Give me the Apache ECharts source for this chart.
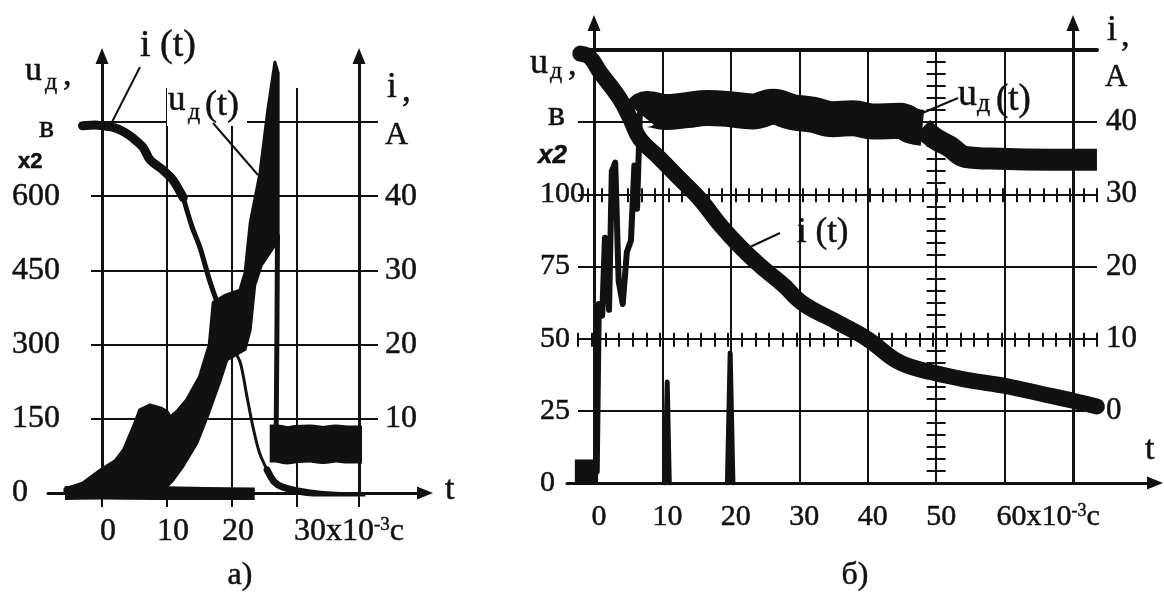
<!DOCTYPE html>
<html>
<head>
<meta charset="utf-8">
<script src="https://cdn.jsdelivr.net/npm/echarts@6/dist/echarts.min.js"></script>
<style>
  html, body { margin: 0; background: #fff; }
  #chart { width: 1164px; height: 592px; }
</style>
</head>
<body>
<div id="chart"></div>
<script>
const SERIF = '"Liberation Serif", "Times New Roman", serif';
const SANS = '"Liberation Sans", Arial, sans-serif';
const INK = '#111';

// ---- а) t in 10^-3 s, u in V (x2, left axis), i in A (right axis)
const tTicksA = [0, 10, 20, 30];
const uTicksA = [0, 150, 300, 450, 600];
const iTicksA = [10, 20, 30, 40];

const iA_t = [-3, -1, 0, 2, 3.5, 4.8, 6.3, 7.4, 9.4, 10.9, 12.5, 13.8, 15.1, 16.6, 18, 19.2, 20.2, 21.3, 22.3, 23.2, 24.2, 25.4, 26.5, 27.8, 32, 36, 40];
const iA_v = [49.5, 49.6, 49.5, 49.2, 48.6, 47.8, 46.6, 44.9, 43.5, 42.2, 39.8, 36, 33, 28.5, 25, 21.5, 19.5, 17.5, 13, 9, 5.5, 3.1, 1.5, 0.8, 0, -0.3, -0.4];

// smeared u trace up to the spike: outline of the dark area
const uBlobA_t = [-5.7, -3, -0.3, 2, 3.3, 5, 5.8, 7.4, 9, 10, 10.5, 11.5, 13, 15, 16.5, 17.1, 19, 21.2, 22, 22.8, 24.3, 25.5, 26.6,
  27.1, 27.1, 24.5, 23.5, 22.8, 22, 19.2, 18.2, 16.2, 14.6, 12.5, 10.9, 9, -5.7];
const uBlobA_v = [8, 20, 46, 65, 87, 140, 168, 178, 172, 165, 154, 165, 188, 235, 300, 385, 400, 410, 445, 546, 647, 774, 871,
  849, 511, 460, 420, 330, 290, 269, 228, 154, 101, 55, 26, 0, 0];
const uDropA_t = [27.0, 26.9, 26.8];
const uDropA_v = [520, 300, 130];
const uHoldA_t = [25.8, 27, 28.5, 30, 32, 34, 36, 38, 40];
const uHoldA_v = [100, 100, 96, 99, 100, 97, 100, 98, 98];
const zeroA_t = [-5.7, 0, 8, 16, 23.5];
const zeroA_v = [0, 1, 0, -2, -3];

// ---- б)
const tTicksB = [0, 10, 20, 30, 40, 50, 60];
const uTicksB = [0, 25, 50, 75, 100];
const iTicksB = [0, 10, 20, 30, 40];

const iB_t = [-2, -0.6, 0.9, 3.8, 5.3, 6.7, 9.6, 12.6, 15.5, 18.4, 21.3, 24.3, 27.6, 30.5, 35.5, 39.9, 44.7, 49.5, 54.5, 60.4, 65.2, 70, 73.5];
const iB_v = [49.5, 49, 46.9, 43.2, 40.5, 37.7, 35, 32.1, 29.3, 25.8, 22.8, 20.1, 17.5, 14.9, 12.3, 10, 6.7, 5.3, 4.3, 3.4, 2.4, 1.4, 0.6];

const uBaseB_t = [-2.8, 0.6];
const uBaseB_v = [4, 4];
const uOscB_t = [0.4, 0.7, 1.2, 1.6, 2.2, 2.6, 3.1, 3.6, 4.2, 4.8, 5.4, 5.9, 6.3, 6.7];
const uOscB_v = [4, 62, 58, 85, 60, 108, 111, 70, 62, 80, 84, 110, 95, 128];
const uHighB_t = [6.7, 7.7, 10.5, 13.6, 16.5, 19.4, 23.2, 26.2, 29, 32, 34.9, 37.8, 40.8, 44.7, 46.6, 48];
const uHighB_v = [128, 129.6, 128.5, 129.2, 129.9, 129.6, 128.7, 130.3, 128.5, 127.6, 126, 126.4, 125.2, 125.5, 123.6, 123];
const uLowB_t = [48, 49.8, 52, 54.2, 59.3, 66.6, 73.5];
const uLowB_v = [123, 119.4, 116.5, 113, 112.3, 112, 112];
const markB_t = [10.4, 10.7, 11.0, 15, 19.5, 19.9, 20.3];
const markB_v = [0, 35, 0, null, 0, 45, 0];

const option = {
  animation: false,
  backgroundColor: '#fff',
  grid: [], xAxis: [], yAxis: [], series: [], graphic: []
};
const push = (arr, o) => (arr.push(o), arr.length - 1);
const hidden = extra => Object.assign({ type: 'value', show: false, min: 0, max: 1 }, extra);
const arrowLine = { show: true, onZero: false, symbol: ['none', 'triangle'], symbolSize: [13, 16], lineStyle: { color: INK, width: 3 } };
const off = { show: false };
const gridLine = w => ({ show: true, showMinLine: false, showMaxLine: false, lineStyle: { color: INK, width: w } });
const heavy = { textBorderColor: INK, textBorderWidth: 0.5 };

function xLabels(ticks, size, pad, lastPad, margin) {
  const n = Object.assign({ fontFamily: SERIF, fontSize: size, lineHeight: size, color: INK }, heavy);
  return {
    margin, showMaxLabel: false, showMinLabel: true,
    formatter: v => {
      const k = ticks.indexOf(v);
      if (k < 0) return '';
      return k === ticks.length - 1 ? `{q| }{n|${v}x10}{s|-3}{n|c}` : `{p| }{n|${v}}`;
    },
    rich: {
      p: { width: pad }, q: { width: lastPad }, n,
      s: Object.assign({}, n, { fontSize: Math.round(size * 0.6), lineHeight: null, verticalAlign: 'top' })
    }
  };
}
function yLabels(ticks, size, margin) {
  return Object.assign({ margin, align: 'left', fontFamily: SERIF, fontSize: size, color: INK,
    formatter: v => (ticks.includes(v) ? String(v) : '') }, heavy);
}
function line(xs, ys, xi, yi, w, smooth, cap) {
  option.series.push({
    type: 'line', xAxisIndex: xi, yAxisIndex: yi, silent: true, z: 3,
    data: xs.map((x, k) => [x, ys[k]]),
    showSymbol: false, symbol: 'none', smooth: smooth,
    lineStyle: { color: INK, width: w, cap: cap || 'round', join: 'round' }
  });
}
// dark smeared area of a trace, outline given in data units
function blob(xs, ys, xi, yi) {
  option.series.push({
    type: 'custom', xAxisIndex: xi, yAxisIndex: yi, silent: true, z: 3,
    data: [[xs[0], ys[0]]],
    renderItem: (params, api) => ({
      type: 'polygon',
      shape: { points: xs.map((x, k) => api.coord([x, ys[k]])) },
      style: { fill: INK, stroke: INK, lineWidth: 3, lineJoin: 'round' }
    })
  });
}

// ================= panel а) =================
const A = { t0: 102, pxT: 6.5, u0: 493, pxU: 74.2 / 150 };
const tA = px => (px - A.t0) / A.pxT;
const uA = py => (A.u0 - py) / A.pxU;

let g = push(option.grid, { left: 91, top: 122, width: 287, height: 371 });
push(option.xAxis, hidden({ gridIndex: g }));
push(option.yAxis, { type: 'value', gridIndex: g, min: 0, max: 750, interval: 150,
  axisLine: off, axisTick: off, axisLabel: off, splitLine: Object.assign(gridLine(2), { showMaxLine: true }) });

g = push(option.grid, { left: 102, top: 88, width: 257, height: 419 });
push(option.xAxis, { type: 'value', gridIndex: g, min: 0, max: tA(359), interval: 10,
  axisLine: off, axisTick: off, splitLine: Object.assign(gridLine(2), { showMinLine: true, showMaxLine: true }),
  axisLabel: xLabels(tTicksA, 32, 12, 104, 9) });
push(option.yAxis, hidden({ gridIndex: g }));

g = push(option.grid, { left: 48, top: 56, width: 377, height: 437 });
const xA = push(option.xAxis, { type: 'value', gridIndex: g, min: tA(48), max: tA(425),
  axisLine: arrowLine, axisTick: off, axisLabel: off, splitLine: off });
const yuA = push(option.yAxis, hidden({ gridIndex: g, max: uA(56) }));
const yiA = push(option.yAxis, hidden({ gridIndex: g, max: uA(56) / 15, position: 'right' }));

g = push(option.grid, { left: 102, top: 56, width: 257, height: 437 });
push(option.xAxis, hidden({ gridIndex: g }));
push(option.yAxis, { type: 'value', gridIndex: g, position: 'left', min: 0, max: uA(56), interval: 150,
  axisLine: arrowLine, axisTick: off, splitLine: off, axisLabel: yLabels(uTicksA, 32, 90) });
push(option.yAxis, { type: 'value', gridIndex: g, position: 'right', min: 0, max: uA(56) / 15, interval: 10,
  axisLine: arrowLine, axisTick: off, splitLine: off, axisLabel: yLabels(iTicksA, 32, 26) });

line(zeroA_t, zeroA_v, xA, yuA, 14, 0.3, 'butt');
blob(uBlobA_t, uBlobA_v, xA, yuA);
line(uDropA_t, uDropA_v, xA, yuA, 5, false);
line(uHoldA_t, uHoldA_v, xA, yuA, 38, 0.3, 'butt');
line(iA_t.slice(0, 11), iA_v.slice(0, 11), xA, yiA, 9, 0.3);
line(iA_t.slice(10, 15), iA_v.slice(10, 15), xA, yiA, 5, 0.3);
line(iA_t.slice(14, 22), iA_v.slice(14, 22), xA, yiA, 3, 0.3);
line(iA_t.slice(21), iA_v.slice(21), xA, yiA, 7, 0.3);

// ================= panel б) =================
const B = { t0: 594, pxT: 479 / 70, u0: 483, pxU: 433 / 150 };
const tB = px => (px - B.t0) / B.pxT;
const uB = py => (B.u0 - py) / B.pxU;
const iOf = u => (u - 25) / 2.5;

g = push(option.grid, { left: 578, top: 50, width: 519, height: 433 });
push(option.xAxis, { type: 'value', gridIndex: g, min: 0, max: 1, position: 'top',
  axisLine: { show: true, onZero: false, lineStyle: { color: INK, width: 4 } }, axisTick: off, axisLabel: off, splitLine: off });
push(option.yAxis, { type: 'value', gridIndex: g, min: 0, max: 150, interval: 25,
  axisLine: off, axisTick: off, axisLabel: off, splitLine: gridLine(2) });

g = push(option.grid, { left: 594, top: 50, width: 479, height: 433 });
push(option.xAxis, { type: 'value', gridIndex: g, min: 0, max: 70, interval: 10,
  axisLine: off, axisTick: off, splitLine: gridLine(2),
  axisLabel: xLabels(tTicksB, 30, 10, 87, 19) });
push(option.yAxis, hidden({ gridIndex: g }));

// graticule tick marks on the 100 and 50 lines and on t = 50
[[100, 588], [50, 578]].forEach(([u, left]) => {
  const gt = push(option.grid, { left, top: B.u0 - u * B.pxU, width: 1097 - left, height: 1 });
  ['top', 'bottom'].forEach(pos => push(option.xAxis, { type: 'value', gridIndex: gt, position: pos, min: 0, max: 38, interval: 1,
    axisLine: off, axisLabel: off, splitLine: off, axisTick: { show: true, length: 7, lineStyle: { color: INK, width: 2 } } }));
  push(option.yAxis, hidden({ gridIndex: gt }));
});
g = push(option.grid, { left: B.t0 + 50 * B.pxT - 0.5, top: 50, width: 1, height: 433 });
push(option.xAxis, hidden({ gridIndex: g }));
['left', 'right'].forEach(pos => push(option.yAxis, { type: 'value', gridIndex: g, position: pos, min: 0, max: 36, interval: 1,
  axisLine: off, axisLabel: off, splitLine: off, axisTick: { show: true, length: 9, lineStyle: { color: INK, width: 2 } } }));

g = push(option.grid, { left: 567, top: 23, width: 588, height: 460 });
const xB = push(option.xAxis, { type: 'value', gridIndex: g, min: tB(567), max: tB(1155),
  axisLine: arrowLine, axisTick: off, axisLabel: off, splitLine: off });
const yuB = push(option.yAxis, hidden({ gridIndex: g, max: uB(23) }));
const yiB = push(option.yAxis, hidden({ gridIndex: g, min: -10, max: iOf(uB(23)), position: 'right' }));

g = push(option.grid, { left: 594, top: 23, width: 479, height: 460 });
push(option.xAxis, hidden({ gridIndex: g }));
push(option.yAxis, { type: 'value', gridIndex: g, position: 'left', min: 0, max: uB(23), interval: 25,
  axisLine: arrowLine, axisTick: off, splitLine: off, axisLabel: yLabels(uTicksB, 30, 54) });
push(option.yAxis, { type: 'value', gridIndex: g, position: 'right', min: -10, max: iOf(uB(23)), interval: 10,
  axisLine: arrowLine, axisTick: off, splitLine: off, axisLabel: yLabels(iTicksB, 31, 33) });

line(uBaseB_t, uBaseB_v, xB, yuB, 24, false, 'butt');
line(uOscB_t, uOscB_v, xB, yuB, 6, false);
line(uHighB_t, uHighB_v, xB, yuB, 36, 0.4, 'butt');
line(uLowB_t, uLowB_v, xB, yuB, 22, 0.4, 'butt');
line(markB_t, markB_v, xB, yuB, 5, false);
line(iB_t, iB_v, xB, yiB, 16, 0.4);

// ================= captions =================
function txt(text, x, y, font, extra) {
  option.graphic.push({ type: 'text', x, y, z: 60, silent: true,
    style: Object.assign({ text, font, fill: INK, stroke: INK, lineWidth: 0.5,
      textAlign: 'left', textVerticalAlign: 'middle', align: 'left', verticalAlign: 'middle' }, extra || {}) });
}
function lead(x1, y1, x2, y2) {
  option.graphic.push({ type: 'line', z: 60, silent: true, shape: { x1, y1, x2, y2 }, style: { stroke: INK, lineWidth: 2 } });
}
const serif = s => `${s}px ${SERIF}`;

// а)
txt('u', 25, 71, serif(34));
txt('д', 45, 83, serif(24));
txt(',', 63, 76, serif(34));
txt('в', 39, 129, serif(32));
txt('x2', 18, 162, `bold 22px ${SANS}`);
txt('i (t)', 140, 46, serif(38));
lead(140, 67, 112, 122);
option.graphic.push({ type: 'rect', z: 55, silent: true, shape: { x: 167, y: 86, width: 80, height: 40 }, style: { fill: '#fff' } });
txt('u', 168, 101, serif(35));
txt('д', 188, 113, serif(24));
txt('(t)', 205, 106, serif(36));
lead(213, 123, 258, 175);
txt('i', 387, 88, serif(35));
txt(',', 402, 92, serif(35));
txt('A', 385, 136, serif(32));
txt('t', 445, 490, serif(34));
txt('а)', 240, 576, serif(32), { textAlign: 'center', align: 'center' });

// б)
txt('u', 530, 64, serif(36));
txt('д', 550, 72, serif(24));
txt(',', 568, 66, serif(34));
txt('в', 548, 116, serif(36));
txt('x2', 538, 156, `italic bold 26px ${SANS}`);
txt('u', 958, 95, serif(38));
txt('д', 977, 104, serif(26));
txt('(t)', 996, 100, serif(37));
lead(958, 98, 913, 117);
txt('i (t)', 797, 233, serif(35));
lead(780, 233, 750, 247);
txt('i', 1107, 31, serif(36));
txt(',', 1121, 37, serif(34));
txt('A', 1105, 78, serif(31));
txt('t', 1145, 450, serif(34));
txt('б)', 855, 576, serif(32), { textAlign: 'center', align: 'center' });

const chart = echarts.init(document.getElementById('chart'));
chart.setOption(option);
</script>
</body>
</html>
